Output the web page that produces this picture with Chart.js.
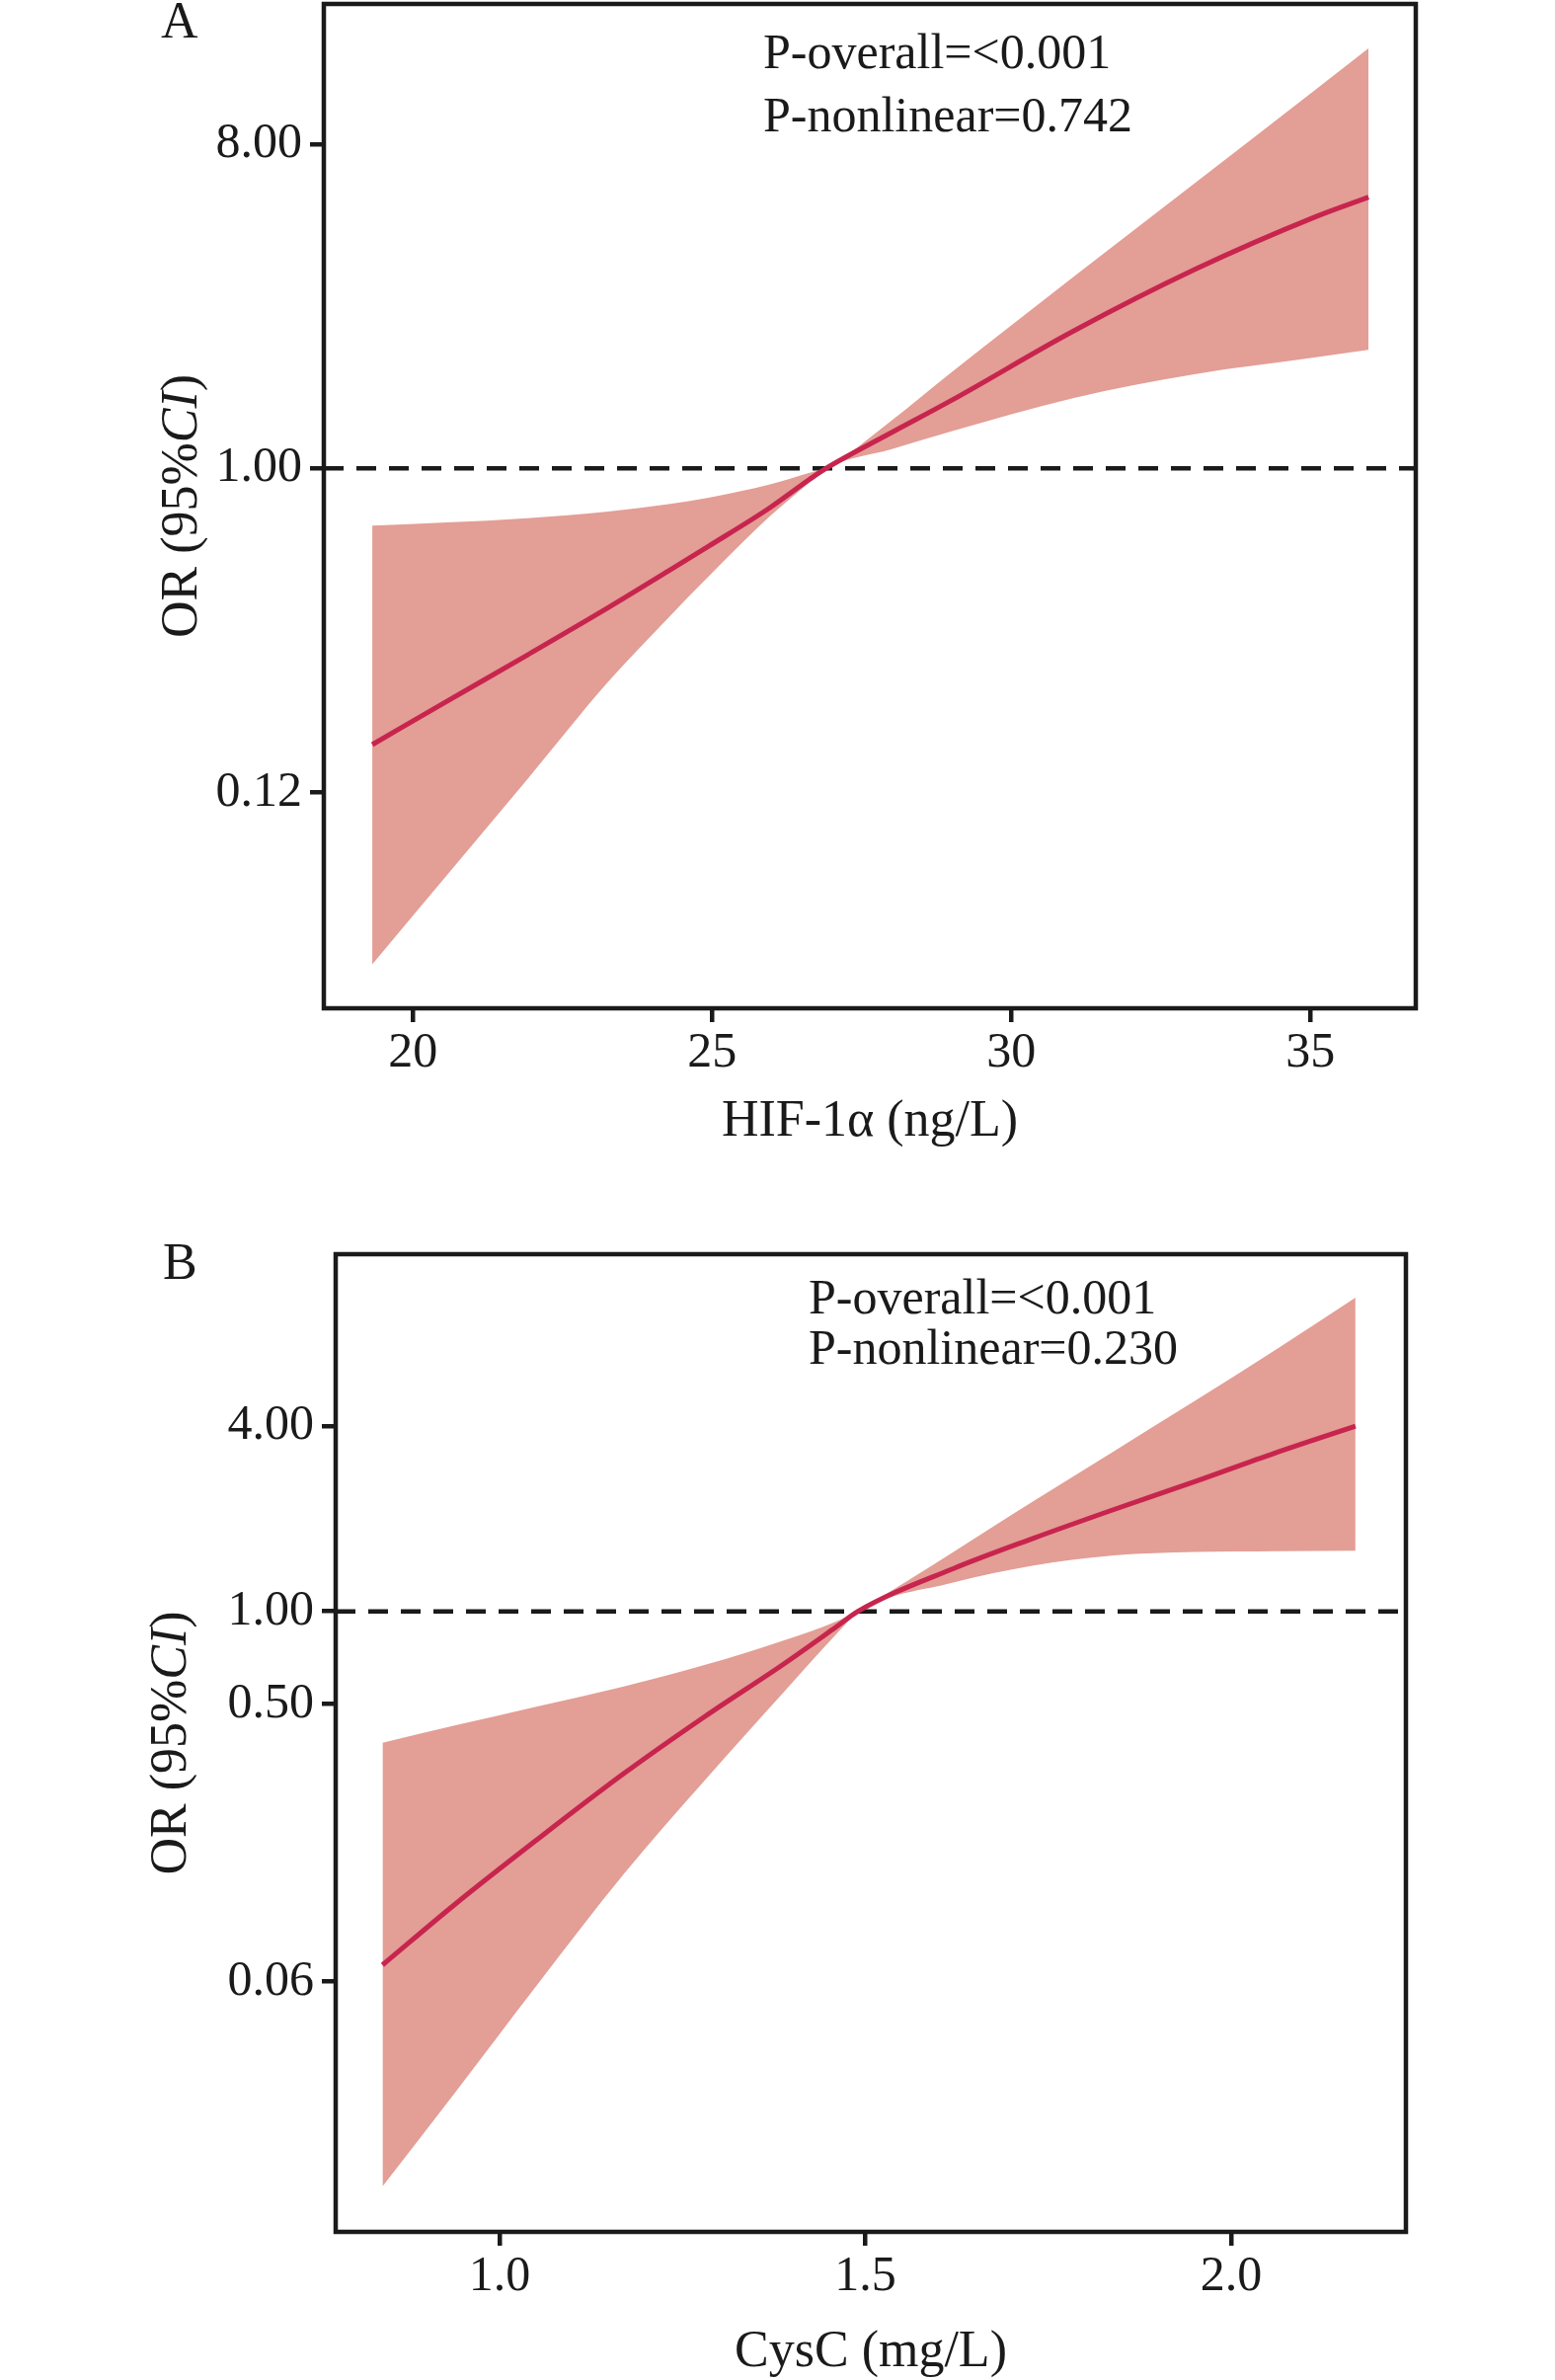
<!DOCTYPE html>
<html>
<head>
<meta charset="utf-8">
<script src="https://cdn.jsdelivr.net/npm/chart.js@4.4.0/dist/chart.umd.min.js"></script>
<style>
  body { margin: 0; background: #fff; }
  canvas { position: absolute; left: 0; }
  #chartA { top: 0; }
  #chartB { top: 1205px; }
</style>
</head>
<body>
<canvas id="chartA" width="1575" height="1205"></canvas>
<canvas id="chartB" width="1575" height="1205"></canvas>
<script>
// Panel A - HIF-1a
const hifX = [19.32, 20.56, 21.91, 23.26, 24.27, 24.94, 25.95, 26.63, 26.9, 27.99, 29.0, 31.03, 33.06, 35.09, 35.97];
const hifOR = [0.170, 0.224, 0.302, 0.409, 0.518, 0.607, 0.774, 0.933, 1.0, 1.257, 1.548, 2.41, 3.58, 5.03, 5.70];
const hifUpper = [0.693, 0.707, 0.727, 0.758, 0.795, 0.829, 0.901, 0.973, 1.003, 1.357, 1.853, 3.41, 6.23, 11.39, 14.83];
const hifLower = [0.0415, 0.0733, 0.136, 0.254, 0.384, 0.500, 0.732, 0.914, 0.997, 1.13, 1.27, 1.57, 1.83, 2.04, 2.14];
const hifXTicks = [20, 25, 30, 35];
const hifYTicks = [0.125, 1, 8];
const hifYLabels = ['0.12', '1.00', '8.00'];

// Panel B - CysC
const cysX = [0.84, 0.94, 1.05, 1.17, 1.28, 1.39, 1.46, 1.49, 1.62, 1.73, 1.84, 1.95, 2.06, 2.17];
const cysOR = [0.0708, 0.112, 0.180, 0.297, 0.454, 0.678, 0.889, 1.0, 1.376, 1.729, 2.144, 2.639, 3.272, 4.0];
const cysUpper = [0.374, 0.426, 0.490, 0.570, 0.669, 0.807, 0.927, 1.007, 1.558, 2.282, 3.317, 4.823, 7.06, 10.48];
const cysLower = [0.0135, 0.0274, 0.0604, 0.140, 0.281, 0.551, 0.841, 0.99, 1.24, 1.41, 1.52, 1.56, 1.57, 1.576];
const cysXTicks = [1.0, 1.5, 2.0];
const cysXLabels = ['1.0', '1.5', '2.0'];
const cysYTicks = [0.0625, 0.5, 1, 4];
const cysYLabels = ['0.06', '0.50', '1.00', '4.00'];

const FONT = '"Liberation Serif", "Times New Roman", serif';
const INK = '#1a1a1a';
const BAND = '#e39e96';
const LINE = '#c7254e';

// box, panel letter, p-values and axis titles
const framePlugin = {
  id: 'frame',
  afterDraw(chart, args, o) {
    const ctx = chart.ctx;
    const a = chart.chartArea;
    ctx.save();
    ctx.lineWidth = 4.5;
    ctx.strokeStyle = INK;
    ctx.strokeRect(a.left, a.top, a.right - a.left, a.bottom - a.top);

    ctx.fillStyle = INK;
    ctx.textBaseline = 'alphabetic';
    ctx.textAlign = 'left';
    ctx.font = '52px ' + FONT;
    ctx.fillText(o.letter, o.letterX, o.letterY);

    ctx.font = '50px ' + FONT;
    o.notes.forEach((t, i) => ctx.fillText(t, o.noteX, o.noteY + i * o.noteGap));

    // x title
    ctx.textAlign = 'center';
    ctx.font = '52px ' + FONT;
    ctx.fillText(o.xTitle, (a.left + a.right) / 2, o.xTitleY);

    // y title, "CI" in italics
    ctx.translate(o.yTitleX, (a.top + a.bottom) / 2);
    ctx.rotate(-Math.PI / 2);
    ctx.textAlign = 'left';
    const parts = [['OR (95%', ''], ['CI', 'italic '], [')', '']];
    let total = 0;
    parts.forEach(p => { ctx.font = p[1] + '52px ' + FONT; total += ctx.measureText(p[0]).width; });
    let x = -total / 2;
    parts.forEach(p => {
      ctx.font = p[1] + '52px ' + FONT;
      ctx.fillText(p[0], x, 0);
      x += ctx.measureText(p[0]).width;
    });
    ctx.restore();
  }
};

function pts(xs, ys) {
  return xs.map((x, i) => ({ x: x, y: ys[i] }));
}

function makeChart(id, d) {
  const W = 1575, H = 1205;
  return new Chart(document.getElementById(id), {
    type: 'line',
    data: {
      datasets: [
        { data: pts(d.x, d.or), borderColor: LINE, borderWidth: 5, pointRadius: 0,
          cubicInterpolationMode: 'monotone', fill: false },
        { data: [{ x: d.xMin, y: 1 }, { x: d.xMax, y: 1 }], borderColor: INK, borderWidth: 4.5,
          borderDash: [20, 13], pointRadius: 0, fill: false },
        { data: pts(d.x, d.upper), borderWidth: 0, borderColor: BAND, backgroundColor: BAND,
          pointRadius: 0, cubicInterpolationMode: 'monotone', fill: '+1' },
        { data: pts(d.x, d.lower), borderWidth: 0, borderColor: BAND, backgroundColor: BAND,
          pointRadius: 0, cubicInterpolationMode: 'monotone', fill: false }
      ]
    },
    options: {
      responsive: false,
      animation: false,
      devicePixelRatio: 1,
      layout: { padding: { left: 0, top: d.top, right: W - d.right, bottom: 0 } },
      plugins: {
        legend: { display: false },
        tooltip: { enabled: false },
        frame: d.frame
      },
      scales: {
        x: {
          type: 'linear', min: d.xMin, max: d.xMax,
          afterBuildTicks: s => { s.ticks = d.xTicks.map(v => ({ value: v })); },
          afterFit: s => { s.height = H - d.bottom; s.paddingLeft = 0; s.paddingRight = 0; },
          ticks: { callback: (v, i) => d.xLabels[i], font: { family: FONT, size: 50 }, color: INK,
                   padding: 2, maxRotation: 0, autoSkip: false },
          grid: { display: true, drawOnChartArea: false, drawTicks: true, tickLength: 14,
                  lineWidth: 4.5, color: INK },
          border: { display: false }
        },
        y: {
          type: 'logarithmic', min: d.yMin, max: d.yMax,
          afterBuildTicks: s => { s.ticks = d.yTicks.map(v => ({ value: v })); },
          afterFit: s => { s.width = d.left; s.paddingTop = 0; s.paddingBottom = 0; },
          ticks: { callback: (v, i) => d.yLabels[i], font: { family: FONT, size: 50 }, color: INK,
                   padding: 8, autoSkip: false },
          grid: { display: true, drawOnChartArea: false, drawTicks: true, tickLength: 14,
                  lineWidth: 4.5, color: INK },
          border: { display: false }
        }
      }
    },
    plugins: [framePlugin]
  });
}

makeChart('chartA', {
  x: hifX, or: hifOR, upper: hifUpper, lower: hifLower,
  xMin: 18.51, xMax: 36.76, yMin: 0.0313, yMax: 19.7,
  xTicks: hifXTicks, xLabels: hifXTicks.map(String),
  yTicks: hifYTicks, yLabels: hifYLabels,
  left: 328, right: 1434, top: 4, bottom: 1021,
  frame: {
    letter: 'A', letterX: 163, letterY: 38,
    notes: ['P-overall=<0.001', 'P-nonlinear=0.742'], noteX: 773, noteY: 69, noteGap: 64,
    xTitle: 'HIF-1α (ng/L)', xTitleY: 1150, yTitleX: 199
  }
});

makeChart('chartB', {
  x: cysX, or: cysOR, upper: cysUpper, lower: cysLower,
  xMin: 0.776, xMax: 2.239, yMin: 0.0096, yMax: 14.5,
  xTicks: cysXTicks, xLabels: cysXLabels,
  yTicks: cysYTicks, yLabels: cysYLabels,
  left: 340, right: 1424, top: 65, bottom: 1055,
  frame: {
    letter: 'B', letterX: 165, letterY: 90,
    notes: ['P-overall=<0.001', 'P-nonlinear=0.230'], noteX: 819, noteY: 125, noteGap: 51,
    xTitle: 'CysC (mg/L)', xTitleY: 1191, yTitleX: 188
  }
});
</script>
</body>
</html>
